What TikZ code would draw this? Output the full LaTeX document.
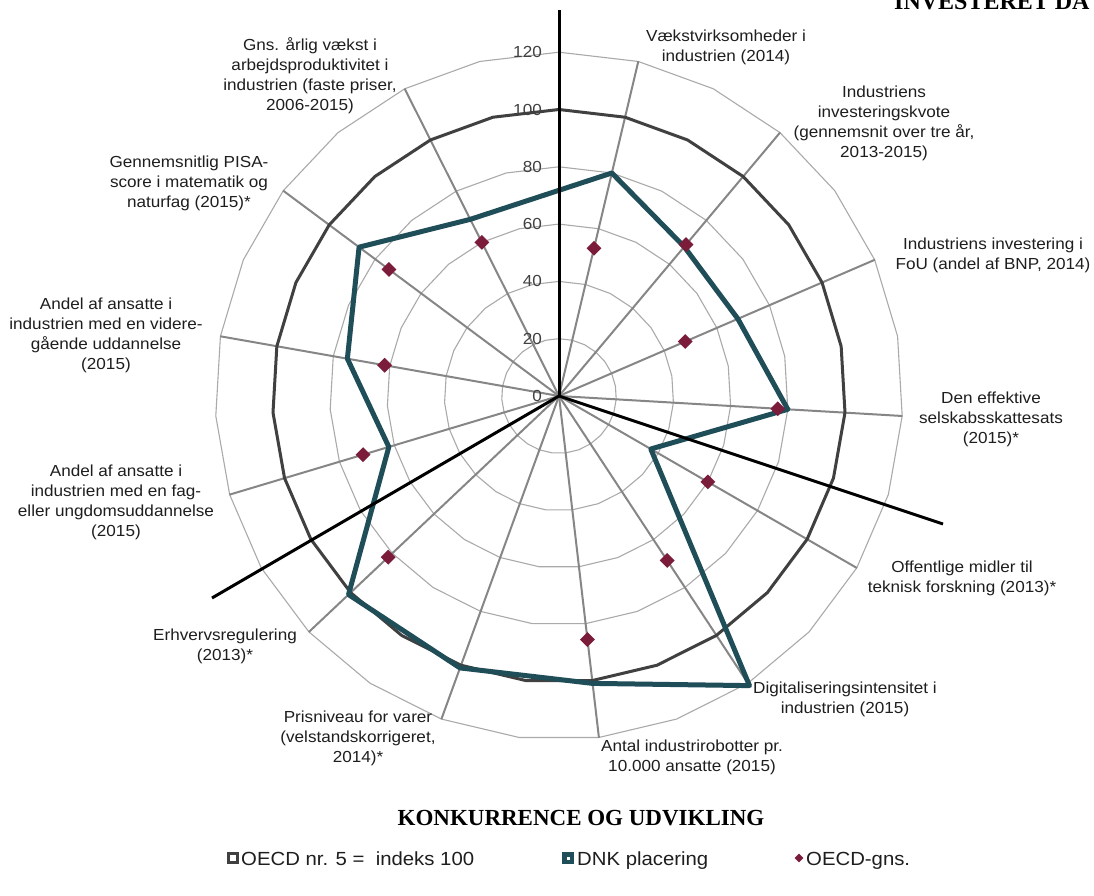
\documentclass[tikz,border=0pt]{standalone}
\usepackage{fontspec}
\setmainfont{Liberation Sans}[FakeStretch=1.07]
\newfontfamily\titlefont{Liberation Serif}
\usetikzlibrary{shapes.geometric}
\definecolor{dnkcol}{RGB}{31,78,88}
\definecolor{gnscol}{RGB}{122,28,58}
\definecolor{oecdcol}{RGB}{64,64,64}
\definecolor{ringcol}{RGB}{170,170,170}
\definecolor{axiscol}{RGB}{134,134,134}
\definecolor{txtcol}{RGB}{30,30,30}
\definecolor{numcol}{RGB}{64,64,64}
\begin{document}
\begin{tikzpicture}[x=1pt,y=1pt,
  ringline/.style={draw=ringcol, line width=1.1pt},
  axisline/.style={draw=axiscol, line width=2pt},
  oecdline/.style={draw=oecdcol, line width=3pt, line join=round},
  dnkline/.style={draw=dnkcol, line width=5pt, line join=round},
  sepline/.style={draw=black, line width=3pt},
  gnsmark/.style={diamond, fill=gnscol, inner sep=0pt, minimum size=15pt},
  catlabel/.style={align=center, text=txtcol, inner sep=0pt, font=\fontsize{16}{20}\selectfont},
  numlabel/.style={anchor=east, text=numcol, inner sep=0pt, font=\fontsize{16}{20}\selectfont},
  legtext/.style={anchor=base west, text=txtcol, inner sep=0pt, font=\fontsize{19}{22}\selectfont},
  headtext/.style={text=black, inner sep=0pt, font=\titlefont\bfseries\fontsize{23}{27}\selectfont}
]
\useasboundingbox (-559,-500) rectangle (535,396);
\fill[white] (-559,-500) rectangle (535,396);
\def\S{2.865}
% grid rings
\foreach \v in {20,40,60,80,120}{
  \draw[ringline] (90:{\v*\S}) \foreach \k in {1,...,26}{ -- ({90-\k*360/27}:{\v*\S}) } -- cycle;
}
% axes
\coordinate (c) at (0,0);
\foreach \k in {1,3,...,25}{
  \coordinate (ax\k) at ({90-\k*360/27}:344);
  \draw[axisline] (c) -- (ax\k);
}
% OECD nr. 5 = 100
\draw[oecdline] (90:286.5) \foreach \k in {1,...,26}{ -- ({90-\k*360/27}:286.5) } -- cycle;
% DNK
\foreach \k/\v in {1/80,3/68,5/68,7/80,9/37,11/121,13/101,15/101,17/101,19/62,21/75,23/87,25/69}{
  \coordinate (d\k) at ({90-\k*360/27}:{\v*\S});
}
\draw[dnkline] (d1) -- (d3) -- (d5) -- (d7) -- (d9) -- (d11) -- (d13) -- (d15) -- (d17) -- (d19) -- (d21) -- (d23) -- (d25) -- cycle;
% separator lines
\coordinate (b1) at (0,386);
\coordinate (b2) at (384,-128);
\coordinate (b3) at (-347,-202);
\draw[sepline] (c) -- (b1);
\draw[sepline] (c) -- (b2);
\draw[sepline] (c) -- (b3);
% OECD average
\foreach \k/\v in {1/53,3/69,5/48,7/76.5,9/60,11/68.7,13/85.6,17/82,19/71.4,21/61.8,23/74,25/60}{
  \node[gnsmark] (g\k) at ({90-\k*360/27}:{\v*\S}) {};
}
% scale numbers
\foreach \v in {0,20,...,120}{
  \node[numlabel] (n\v) at (-17,{\v*\S}) {\v};
}
% category labels
\node[catlabel] (l1) at (167,349) {Vækstvirksomheder i\\industrien (2014)};
\node[catlabel] (l3) at (325,273) {Industriens\\investeringskvote\\(gennemsnit over tre år,\\2013-2015)};
\node[catlabel] (l5) at (434,141) {Industriens investering i\\FoU (andel af BNP, 2014)};
\node[catlabel] (l7) at (432,-23) {Den effektive\\selskabsskattesats\\(2015)*};
\node[catlabel] (l9) at (403,-182) {Offentlige midler til\\teknisk forskning (2013)*};
\node[catlabel] (l11) at (286,-303) {Digitaliseringsintensitet i\\industrien (2015)};
\node[catlabel] (l13) at (133,-361) {Antal industrirobotter pr.\\10.000 ansatte (2015)};
\node[catlabel] (l15) at (-201,-342) {Prisniveau for varer\\(velstandskorrigeret,\\2014)*};
\node[catlabel] (l17) at (-334,-250) {Erhvervsregulering\\(2013)*};
\node[catlabel] (l19) at (-443,-106) {Andel af ansatte i\\industrien med en fag-\\eller ungdomsuddannelse\\(2015)};
\node[catlabel] (l21) at (-453,61) {Andel af ansatte i\\industrien med en videre-\\gående uddannelse\\(2015)};
\node[catlabel] (l23) at (-370,213) {Gennemsnitlig PISA-\\score i matematik og\\naturfag (2015)*};
\node[catlabel] (l25) at (-249,320) {Gns. årlig vækst i\\arbejdsproduktivitet i\\industrien (faste priser,\\2006-2015)};
% titles
\node[headtext] (title) at (22,-422) {KONKURRENCE OG UDVIKLING};
\node[headtext, anchor=base west, font=\titlefont\bfseries\fontsize{24}{28}\selectfont] (toptitle) at (335,386) {INVESTERET DA};
% legend
\draw[draw=oecdcol, line width=2.5pt, fill=white] (-330.5,-466.5) rectangle (-321.5,-457.5);
\node[legtext] (t1) at (-318,-469) {OECD nr. 5 = \ indeks 100};
\fill[dnkcol] (3,-468) rectangle (15,-456);
\fill[white] (7.5,-463.5) rectangle (10.5,-460.5);
\node[legtext] (t2) at (18,-469) {DNK placering};
\node[diamond, fill=gnscol, inner sep=0pt, minimum size=9pt] (m3) at (240,-462) {};
\node[legtext] (t3) at (247,-469) {OECD-gns.};
\end{tikzpicture}
\end{document}
